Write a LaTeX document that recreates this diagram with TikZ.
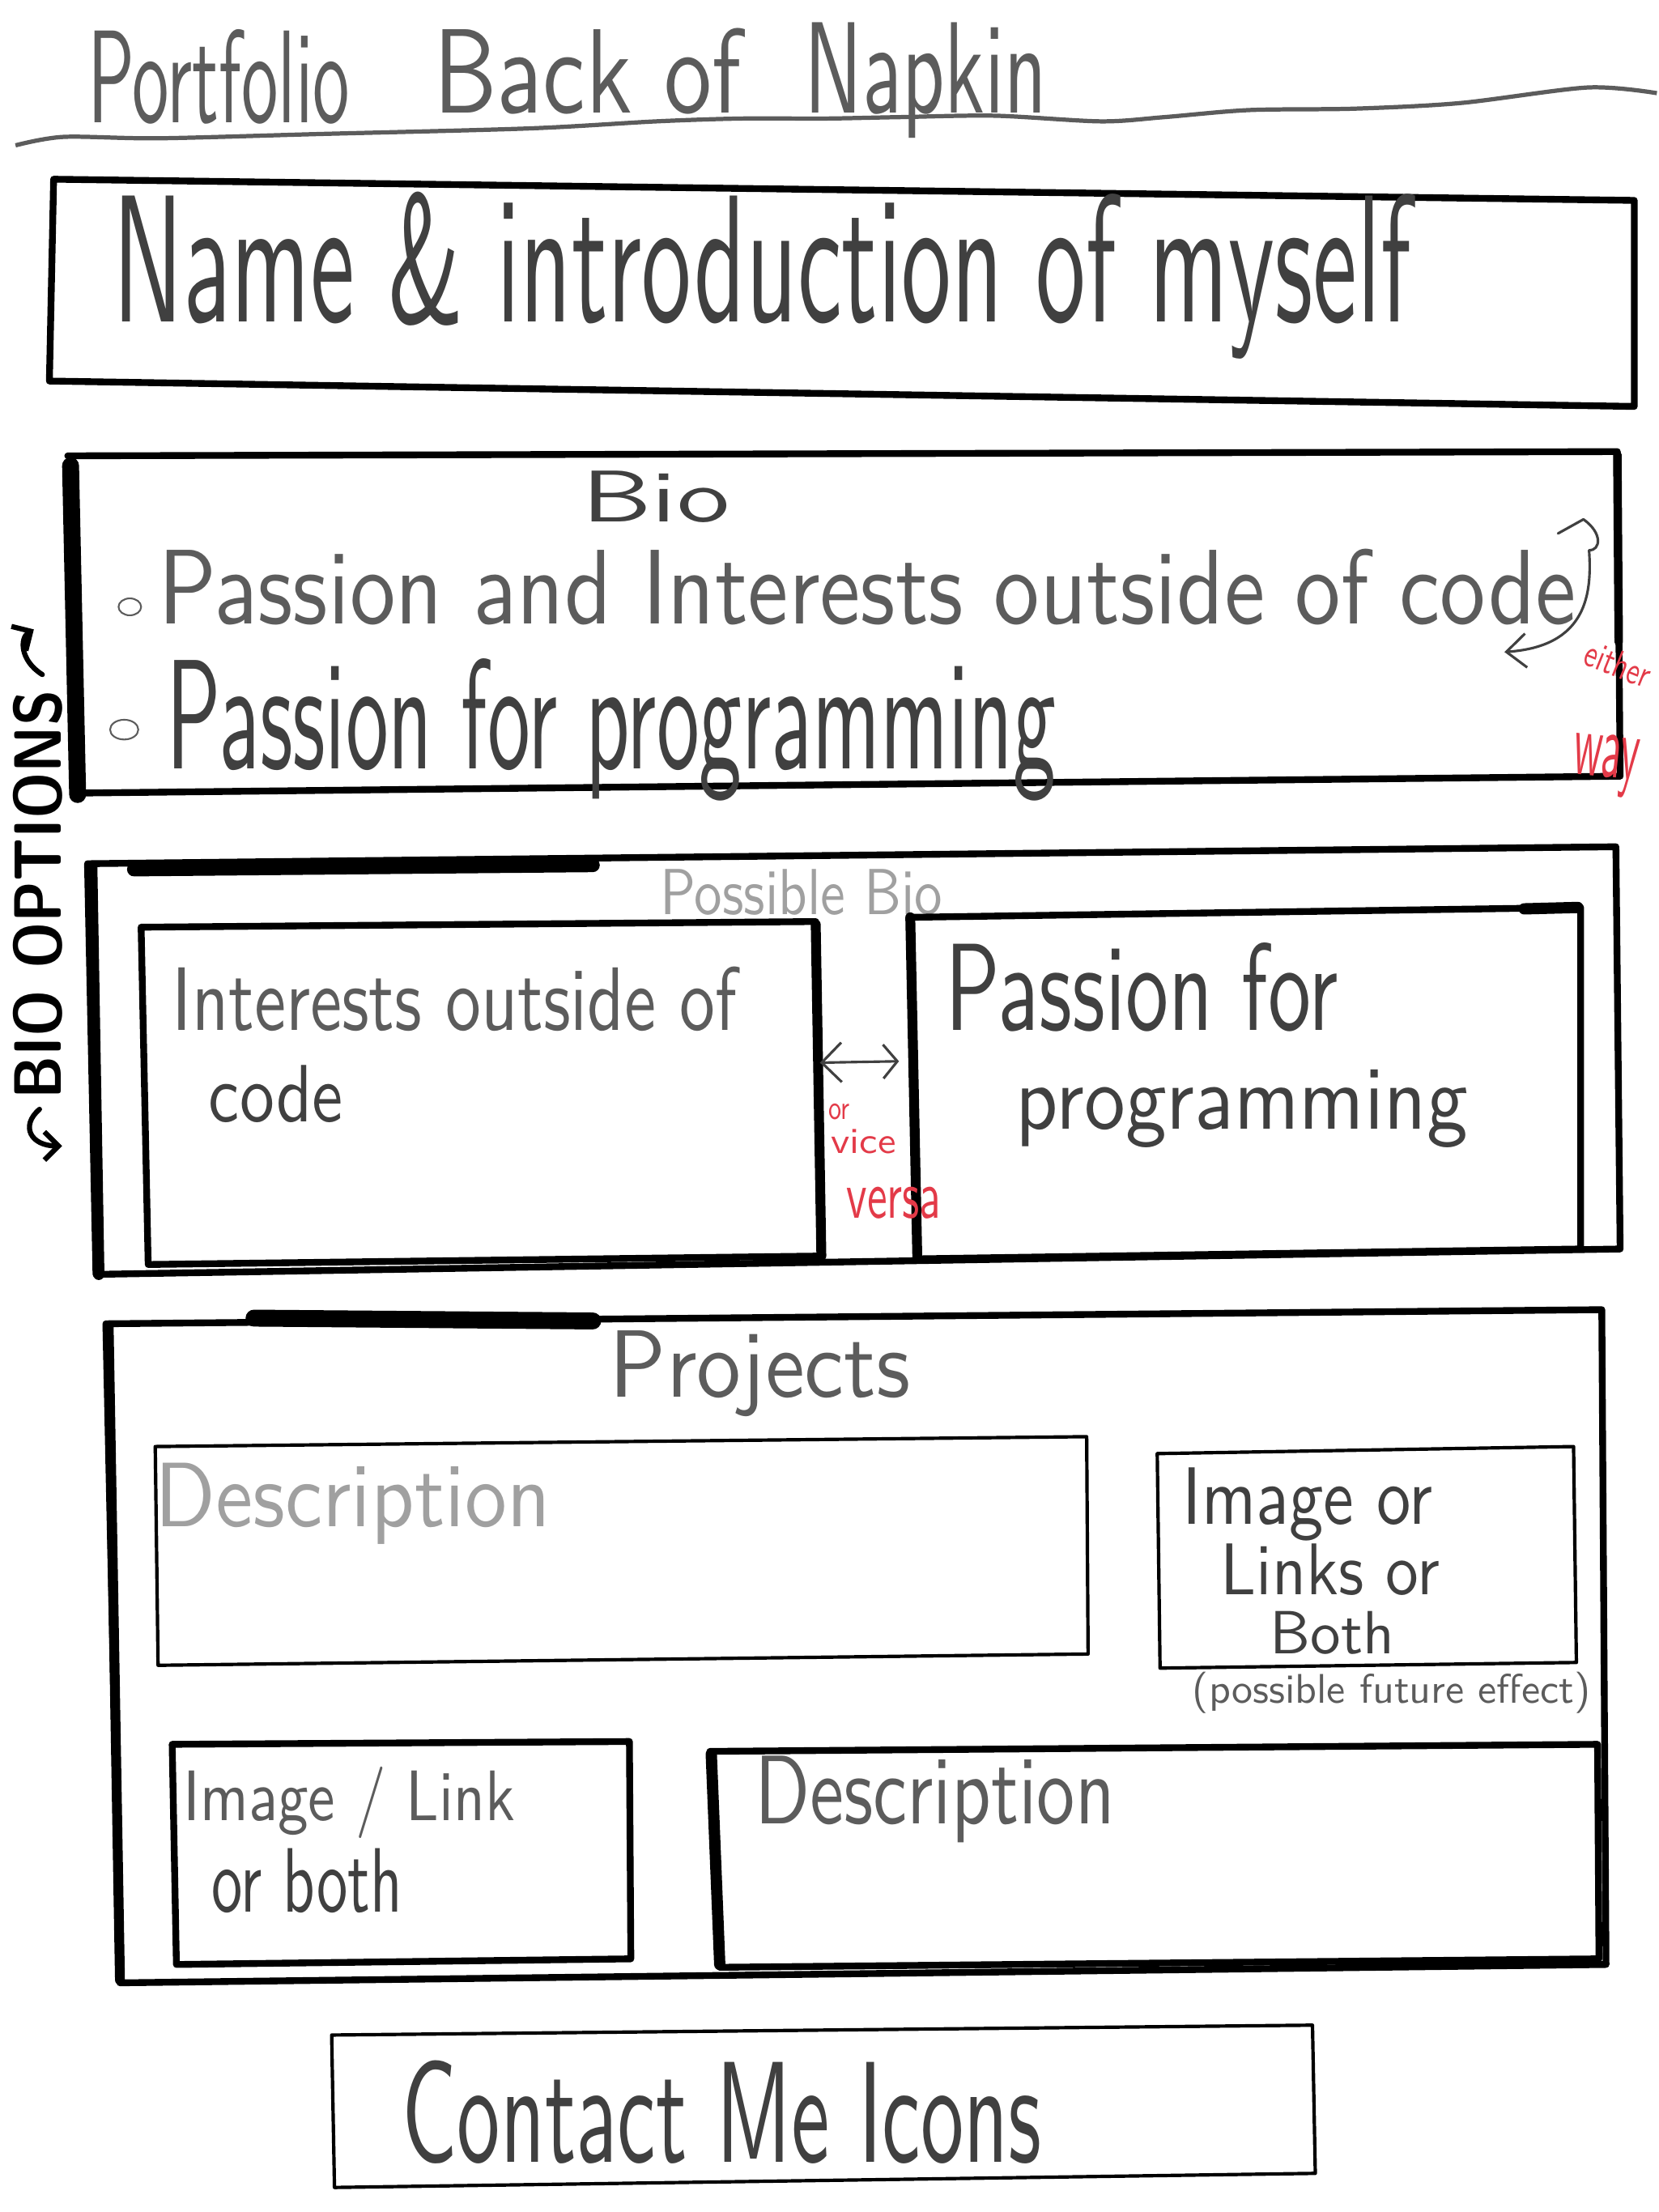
\documentclass[tikz,border=0pt]{standalone}
\usepackage{fontspec}
\usepackage{graphicx}
\usetikzlibrary{arrows.meta,shapes.geometric}

\definecolor{ink}{HTML}{404040}
\definecolor{pencil}{HTML}{5C5C5C}
\definecolor{faint}{HTML}{A0A0A0}
\definecolor{redink}{HTML}{E33A48}

% one drawing unit = 0.5pt; text boxes are stretched to a given width and height
\newlength\unitpx
\setlength\unitpx{0.5pt}
\newcommand\hw[3]{\resizebox{#1\unitpx}{#2\unitpx}{#3}}

\tikzset{
  frame/.style={line width=2.4pt, line join=round, line cap=round, black},
  thinframe/.style={line width=1.2pt, line join=round, line cap=round, black},
  heavy/.style={line width=#1, line cap=round, black},
  hand/.style={inner sep=0pt, outer sep=0pt, anchor=base west, text=ink, font=\sffamily},
  faintHand/.style={hand, text=faint},
  redHand/.style={hand, text=redink},
  bulletmark/.style={ellipse, draw=pencil, line width=0.6pt, minimum width=8pt, minimum height=6pt, inner sep=0pt},
  pen/.style={ink, line width=0.9pt, line cap=round, line join=round},
  barb/.style={-{Straight Barb[length=7pt, width=12pt]}},
}

\begin{document}
\begin{tikzpicture}[x=0.5pt, y=-0.5pt]
\fill[white] (0,0) rectangle (1175,1567.4);
\useasboundingbox (0,0) rectangle (1175,1567.4);

% ---- title and underline
\node[hand, text=pencil] (tPortfolio) at (62,87) {\hw{186}{66}{Portfolio}};
\node[hand, text=pencil] (tBack) at (307,80) {\hw{218}{60}{Back of}};
\node[hand, text=pencil] (tNapkin) at (570,80) {\hw{172}{64}{Napkin}};
\draw[pencil, line width=1.5pt] plot[smooth] coordinates {(11,103) (45,97) (112,98) (225,95) (375,91) (465,86) (525,84) (585,84) (637,83) (705,82) (780,86) (825,83) (885,78) (960,77) (1035,73) (1125,62) (1174,66)};

% ---- name and introduction
\draw[frame] (38,127) -- (1158,142) -- (1158,288) -- (35,270) -- cycle;
\node[hand] (tName) at (80,228) {\hw{920}{92}{Name \& introduction of myself}};

% ---- bio
\draw[frame] (48,323) -- (1146,320) -- (1148,550) -- (52,562);
\draw[heavy=6pt] (50,330) -- (55,563);
\draw[heavy=3pt] (1146,322) -- (1147,455);
\node[hand] (tBio) at (412,370) {\hw{105}{36}{Bio}};
\node[bulletmark] (b1) at (92,430) {};
\node[hand, text=pencil] (tInterests) at (112,442) {\hw{1005}{53}{Passion and Interests outside of code}};
\node[bulletmark, minimum width=10pt, minimum height=7pt] (b2) at (88,517) {};
\node[hand] (tPassion) at (118,545) {\hw{630}{78}{Passion for programming}};
\coordinate (swapStart) at (1126,390);
\coordinate (swapEnd) at (1066,462);
\draw[pen] (1104,378) -- (1122,368) .. controls (1136,378) and (1134,390) .. (swapStart);
\draw[pen, barb] (swapStart) .. controls (1128,420) and (1125,458) .. (swapEnd);
\node[redHand, rotate=-22] (tEither) at (1121,470) {\hw{48}{19}{either}};
\node[redHand, rotate=-6] (tWay) at (1114,548) {\hw{46}{30}{way}};

% ---- side label
\node[inner sep=0pt, text=black, font=\sffamily\bfseries, rotate=90] (tOptions) at (27,634) {\hw{290}{34}{BIO OPTIONS}};
\coordinate (optTopA) at (30,478);
\coordinate (optTopB) at (24,446);
\coordinate (optBotA) at (28,786);
\coordinate (optBotB) at (44,812);
\draw[black, line width=1.8pt, line cap=round, -{Straight Barb[length=5pt, width=10pt]}] (optTopA) .. controls (14,468) and (14,452) .. (optTopB);
\draw[black, line width=1.8pt, line cap=round, -{Straight Barb[length=5pt, width=10pt]}] (optBotA) .. controls (14,798) and (22,812) .. (optBotB);

% ---- possible bio
\draw[frame] (62,612) -- (1145,600) -- (1148,885) -- (68,903) -- cycle;
\draw[heavy=4pt] (65,614) -- (70,903);
\draw[heavy=5pt] (95,616) -- (420,613);
\node[faintHand] (tPossible) at (468,648) {\hw{200}{32}{Possible Bio}};
\draw[frame] (100,657) -- (578,653) -- (582,890) -- (105,896) -- cycle;
\draw[heavy=3.5pt] (578,655) -- (582,890);
\draw[frame] (645,650) -- (1120,643) -- (1120,885) -- (650,892) -- cycle;
\draw[heavy=3.5pt] (645,650) -- (650,892);
\draw[heavy=4pt] (1080,644) -- (1118,643);
\node[hand, text=pencil] (tOutside) at (122,730) {\hw{400}{45}{Interests outside of}};
\node[hand] (tCode) at (148,795) {\hw{95}{40}{code}};
\node[hand] (tPassFor) at (670,730) {\hw{278}{62}{Passion for}};
\node[hand] (tProg) at (720,800) {\hw{320}{42}{programming}};
\coordinate (swapL) at (581,753);
\coordinate (swapR) at (637,752);
\draw[pen, {Straight Barb[length=7pt, width=14pt]}-{Straight Barb[length=5pt, width=12pt]}] (swapL) -- (swapR);
\node[redHand] (tOr) at (587,793) {\hw{15}{11}{or}};
\node[redHand] (tVice) at (589,817) {\hw{46}{17}{vice}};
\node[redHand] (tVersa) at (600,863) {\hw{67}{22}{versa}};

% ---- projects
\draw[frame] (75,938) -- (1135,928) -- (1138,1392) -- (85,1405) -- cycle;
\draw[heavy=3.5pt] (77,940) -- (85,1403);
\draw[heavy=6pt] (180,934) -- (420,936);
\node[hand, text=pencil] (tProjects) at (432,990) {\hw{213}{47}{Projects}};
\draw[thinframe] (110,1025) -- (770,1018) -- (771,1172) -- (112,1180) -- cycle;
\node[faintHand] (tDesc1) at (110,1082) {\hw{280}{45}{Description}};
\draw[thinframe] (820,1030) -- (1115,1025) -- (1117,1178) -- (822,1182) -- cycle;
\node[hand] (tImgOr) at (838,1080) {\hw{177}{40}{Image or}};
\node[hand] (tLinksOr) at (865,1130) {\hw{155}{36}{Links or}};
\node[hand] (tBoth) at (900,1172) {\hw{88}{30}{Both}};
\node[hand, text=pencil] (tFuture) at (845,1207) {\hw{282}{22}{(possible future effect)}};
\draw[frame] (122,1236) -- (446,1234) -- (447,1388) -- (125,1392) -- cycle;
\node[hand, text=pencil] (tImgLink) at (130,1290) {\hw{235}{38}{Image / Link}};
\node[hand] (tOrBoth) at (150,1355) {\hw{135}{45}{or both}};
\draw[frame] (503,1241) -- (1132,1236) -- (1133,1388) -- (510,1394) -- cycle;
\draw[heavy=4pt] (504,1243) -- (510,1392);
\node[hand, text=pencil] (tDesc2) at (535,1292) {\hw{255}{48}{Description}};

% ---- contact
\draw[thinframe] (235,1442) -- (930,1435) -- (932,1540) -- (237,1550) -- cycle;
\node[hand] (tContact) at (285,1532) {\hw{453}{72}{Contact Me Icons}};
\end{tikzpicture}
\end{document}
